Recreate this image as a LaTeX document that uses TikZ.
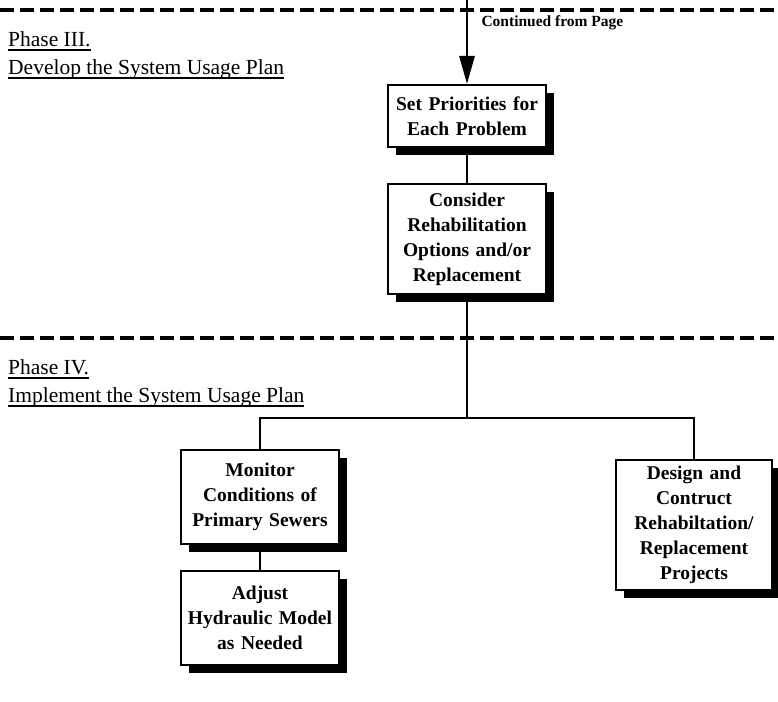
\documentclass[tikz,border=0pt]{standalone}
\usepackage{fontspec}
\setmainfont{Liberation Serif}
\usepackage{tikz}
\usetikzlibrary{arrows.meta,positioning,calc,shadows}
\newlength\ulwd
\newcommand{\phaseline}[1]{\settowidth{\ulwd}{#1}\makebox[0pt][l]{\rule[-4.5pt]{\ulwd}{1.8pt}}#1}
\tikzset{
  plan box/.style={draw=black,line width=2pt,fill=white,text width=150pt,align=center,
    inner sep=4pt,font=\bfseries\fontsize{19.5}{25}\selectfont,
    drop shadow={shadow xshift=8pt,shadow yshift=-8pt,fill=black,opacity=1}},
  phase rule/.style={line width=4pt,dash pattern=on 14pt off 6pt},
  plan link/.style={line width=2.8pt,draw=black},
  phase label/.style={anchor=north west,align=left,inner sep=0pt,font=\fontsize{21.5}{28}\selectfont}
}
\begin{document}
\begin{tikzpicture}[x=1pt,y=-1pt]
\useasboundingbox (0,0) rectangle (778,701);
% phase separators
\draw[phase rule] (0,10) -- (778,10);
\draw[phase rule] (0,338) -- (778,338);
\node[phase label] (ph3) at (8,31) {\phaseline{Phase III.}\\\phaseline{Develop the System Usage Plan}};
\node[phase label] (ph4) at (8,359) {\phaseline{Phase IV.}\\\phaseline{Implement the System Usage Plan}};
% phase III
\node[plan box,minimum height=62pt] (prio) at (467,116) {Set Priorities for\\Each Problem};
\node[plan box,minimum height=110pt,below=35pt of prio] (rehab) {Consider\\Rehabilitation\\Options and/or\\Replacement};
\coordinate (cont) at (467,0);
\node[anchor=west,font=\bfseries\fontsize{15.5}{18}\selectfont] (contlbl) at (478,23) {Continued from Page};
\draw[plan link,-{Triangle[length=28pt,width=15pt]}] (cont) -- (prio.north);
\draw[plan link] (prio) -- (rehab);
% phase IV
\node[plan box,minimum height=94pt] (monitor) at (260,497) {Monitor\\Conditions of\\Primary Sewers};
\node[plan box,minimum height=94pt,below=25pt of monitor] (adjust) {Adjust\\Hydraulic Model\\as Needed};
\node[plan box,text width=148pt,minimum height=130pt] (design) at (694,525) {Design and\\Contruct\\Rehabiltation/\\Replacement\\Projects};
\coordinate (split) at (rehab.south |- 0,418);
\draw[plan link] (rehab.south) -- (split) -| (monitor.north);
\draw[plan link] (split) -| (design.north);
\draw[plan link] (monitor) -- (adjust);
\end{tikzpicture}
\end{document}
